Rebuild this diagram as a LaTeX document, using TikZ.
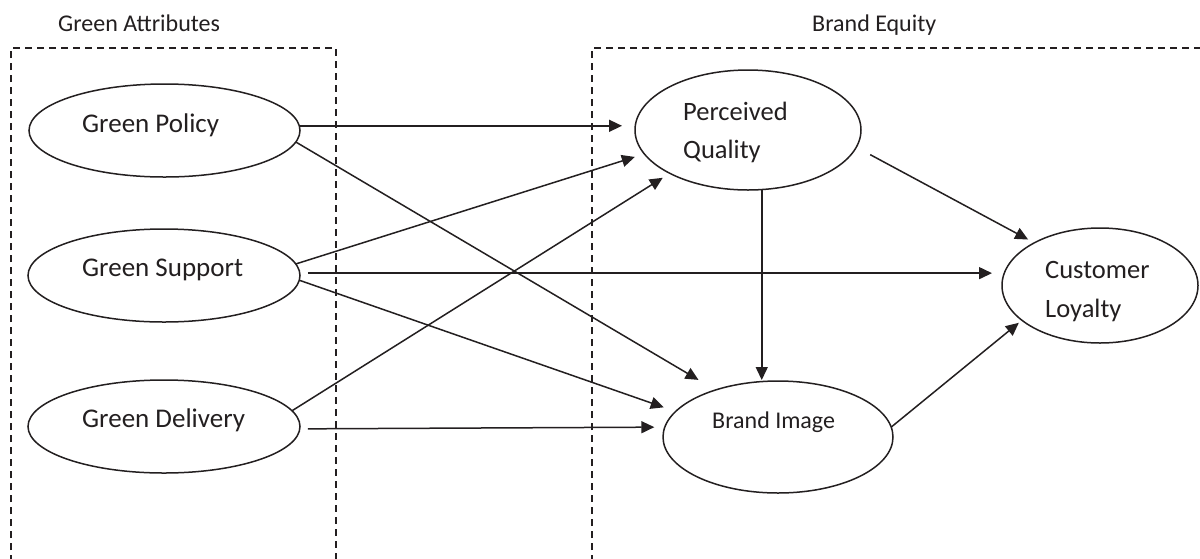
\documentclass[tikz,border=0pt]{standalone}
\usepackage{fontspec}
\setmainfont{Carlito}
\usetikzlibrary{arrows.meta,shapes.geometric}
\definecolor{ink}{RGB}{35,31,32}
\begin{document}
\begin{tikzpicture}[x=1pt,y=-1pt,
  oval/.style={draw=ink, line width=1.5pt, ellipse, inner sep=0pt, outer sep=0pt},
  lbl/.style={anchor=base west, inner sep=0pt, text=ink},
  big/.style={font=\fontsize{27}{32}\selectfont},
  mid/.style={font=\fontsize{26.5}{32}\selectfont},
  small/.style={font=\fontsize{24}{29}\selectfont},
  frame/.style={draw=ink, line width=1.3pt, dash pattern=on 7pt off 5pt},
  link/.style={draw=ink, line width=1.5pt, -{Triangle[length=13pt,width=12pt]}}]
\useasboundingbox (0,0) rectangle (1200,558);
\fill[white] (0,0) rectangle (1200,558);
% dashed frames
\draw[frame] (11,562) -- (11,48) -- (336,48) -- (336,562);
\draw[frame] (592,562) -- (592,48) -- (1206,48);
% headers
\node[lbl, small] (ga) at (58,31) {Green Attributes};
\node[lbl, small] (be) at (812,31) {Brand Equity};
% ellipses
\node[oval, minimum width=271pt, minimum height=93pt] (gp) at (164.5,130.5) {};
\node[oval, minimum width=272pt, minimum height=93pt] (gs) at (164,275.5) {};
\node[oval, minimum width=272pt, minimum height=93pt] (gd) at (164,426.5) {};
\node[oval, minimum width=226pt, minimum height=120pt] (pq) at (748,130) {};
\node[oval, minimum width=230pt, minimum height=112pt] (bi) at (778,437) {};
\node[oval, minimum width=196pt, minimum height=115pt] (cl) at (1100,285.5) {};
% labels
\node[lbl, big] (tgp) at (82,132) {Green Policy};
\node[lbl, big] (tgs) at (82,276) {Green Support};
\node[lbl, big] (tgd) at (82,427) {Green Delivery};
\node[lbl, mid] (tpq1) at (683,120) {Perceived};
\node[lbl, mid] (tpq2) at (683,158) {Quality};
\node[lbl, small] (tbi) at (712,428) {Brand Image};
\node[lbl, mid] (tcl1) at (1045,278) {Customer};
\node[lbl, mid] (tcl2) at (1045,317) {Loyalty};
% connectors
\draw[link, shorten >=13pt] (gp.2.8) -- (gp.2.8 -| pq.west);
\draw[link, shorten >=19.8pt] (gp.-5.3) -- (bi.143.3);
\draw[link, shorten >=10pt] (gs.5.7) -- (pq.193.05);
\draw[link, shorten <=8pt, shorten >=10pt] (gs.1.3) -- (gs.1.3 -| cl.west);
\draw[link, shorten >=12.6pt] (gs.-2.3) -- (bi.166.45);
\draw[link, shorten >=8.4pt] (gd.7.8) -- (pq.209.2);
\draw[link, shorten <=8pt, shorten >=10.5pt] (gd.-1.5) -- (bi.175.4);
\draw[link, shorten >=1pt] (pq.283.2) -- (pq.283.2 |- bi.north);
\draw[link, shorten <=15.8pt, shorten >=7pt] (pq.-9.18) -- (cl.147.75);
\draw[link, shorten >=4pt] (bi.5.05) -- (cl.204.15);
\end{tikzpicture}
\end{document}
